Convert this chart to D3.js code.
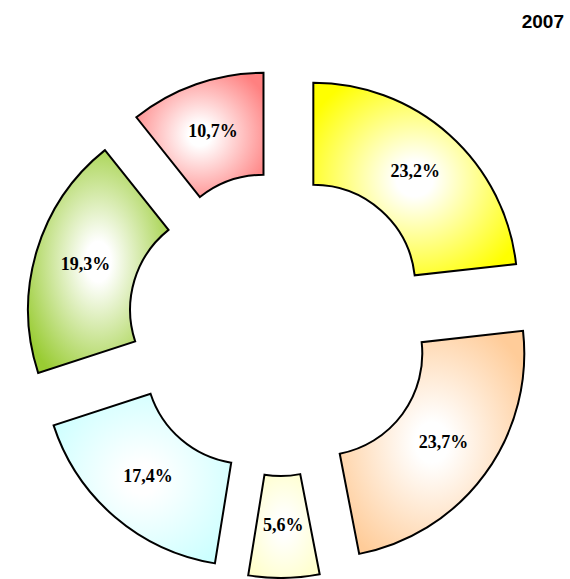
<!DOCTYPE html>
<html>
<head>
<meta charset="utf-8">
<script src="https://cdn.jsdelivr.net/npm/d3@7"></script>
<style>
  body { margin: 0; background: #fff; }
</style>
</head>
<body>
<div id="chart"></div>
<script>
const labels = ["23,2%", "23,7%", "5,6%", "17,4%", "19,3%", "10,7%"];
const values = [23.2, 23.7, 5.6, 17.4, 19.3, 10.7];
const colors = ["#ffff00", "#ffcc99", "#ffffcc", "#ccffff", "#99cc33", "#ff8080"];
const title = "2007";

const width = 570, height = 579;
const cx = 280, cy = 324;
const rIn = 102, rOut = 204, explode = 50;

const svg = d3.select("#chart")
  .append("svg")
  .attr("width", width)
  .attr("height", height);

const defs = svg.append("defs");

const pie = d3.pie().sort(null).value(d => d)(values);
const arc = d3.arc().innerRadius(rIn).outerRadius(rOut);

// one gradient per slice, white in the middle, colour at the edges
pie.forEach((p, i) => {
  const g = defs.append("radialGradient")
    .attr("id", "grad" + i)
    .attr("cx", 0.5).attr("cy", 0.5).attr("r", 0.6);
  g.append("stop").attr("offset", "0%").attr("stop-color", "#ffffff");
  g.append("stop").attr("offset", "15%").attr("stop-color", "#ffffff");
  g.append("stop").attr("offset", "100%").attr("stop-color", colors[i]);
});

const slices = svg.append("g")
  .attr("transform", `translate(${cx},${cy})`)
  .selectAll("g")
  .data(pie)
  .enter()
  .append("g")
  .attr("transform", d => {
    const a = (d.startAngle + d.endAngle) / 2;
    return `translate(${explode * Math.sin(a)},${-explode * Math.cos(a)})`;
  });

slices.append("path")
  .attr("d", arc)
  .attr("fill", (d, i) => `url(#grad${i})`)
  .attr("stroke", "#000")
  .attr("stroke-width", 2)
  .attr("stroke-linejoin", "miter");

slices.append("text")
  .attr("transform", d => `translate(${arc.centroid(d)})`)
  .attr("text-anchor", "middle")
  .attr("dominant-baseline", "middle")
  .style("font-family", "'Liberation Serif', 'Times New Roman', serif")
  .style("font-weight", "bold")
  .style("font-size", "18px")
  .style("fill", "#000")
  .text((d, i) => labels[i]);

svg.append("text")
  .attr("x", 564)
  .attr("y", 28)
  .attr("text-anchor", "end")
  .style("font-family", "'Liberation Sans', Arial, sans-serif")
  .style("font-weight", "bold")
  .style("font-size", "19px")
  .text(title);
</script>
</body>
</html>
